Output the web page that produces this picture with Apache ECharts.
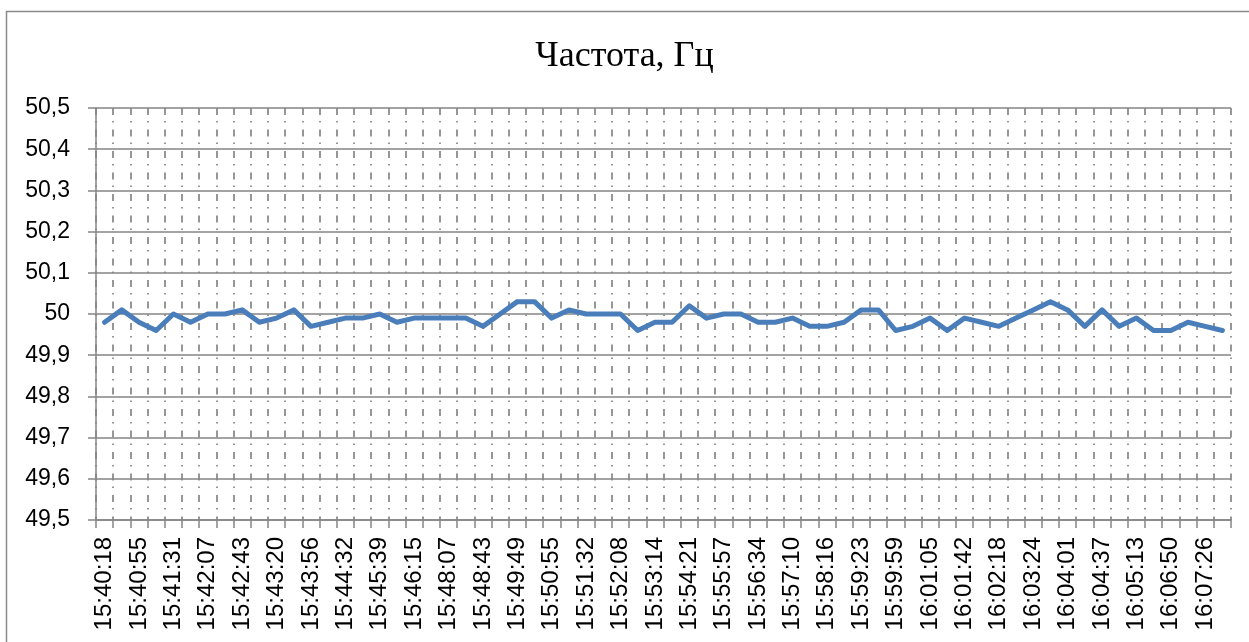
<!DOCTYPE html>
<html>
<head>
<meta charset="utf-8">
<script src="https://cdn.jsdelivr.net/npm/echarts@6/dist/echarts.min.js"></script>
<style>
  html, body { margin: 0; padding: 0; background: #fff; }
  #chart { width: 1249px; height: 642px; }
</style>
</head>
<body>
<div id="chart"></div>
<script>
// Time stamps printed under every second sample
const timeLabels = [
  '15:40:18', '15:40:55', '15:41:31', '15:42:07', '15:42:43', '15:43:20',
  '15:43:56', '15:44:32', '15:45:39', '15:46:15', '15:48:07', '15:48:43',
  '15:49:49', '15:50:55', '15:51:32', '15:52:08', '15:53:14', '15:54:21',
  '15:55:57', '15:56:34', '15:57:10', '15:58:16', '15:59:23', '15:59:59',
  '16:01:05', '16:01:42', '16:02:18', '16:03:24', '16:04:01', '16:04:37',
  '16:05:13', '16:06:50', '16:07:26'
];

// Frequency samples, Hz (one per category)
const frequency = [
  49.98, 50.01, 49.98, 49.96, 50.00, 49.98, 50.00, 50.00, 50.01, 49.98,
  49.99, 50.01, 49.97, 49.98, 49.99, 49.99, 50.00, 49.98, 49.99, 49.99,
  49.99, 49.99, 49.97, 50.00, 50.03, 50.03, 49.99, 50.01, 50.00, 50.00,
  50.00, 49.96, 49.98, 49.98, 50.02, 49.99, 50.00, 50.00, 49.98, 49.98,
  49.99, 49.97, 49.97, 49.98, 50.01, 50.01, 49.96, 49.97, 49.99, 49.96,
  49.99, 49.98, 49.97, 49.99, 50.01, 50.03, 50.01, 49.97, 50.01, 49.97,
  49.99, 49.96, 49.96, 49.98, 49.97, 49.96
];

const yMin = 49.5;
const yMax = 50.5;
const yStep = 0.1;

// Two samples per printed time stamp; the in-between slots carry no label
const categories = [];
timeLabels.forEach(function (t) { categories.push(t); categories.push(''); });

const gridColor = '#858585';

const chart = echarts.init(document.getElementById('chart'), null, { renderer: 'canvas' });

chart.setOption({
  backgroundColor: '#ffffff',
  animation: false,
  title: {
    text: 'Частота, Гц',
    left: 'center',
    top: 34,
    textStyle: {
      fontFamily: '"Liberation Serif", "DejaVu Serif", serif',
      fontSize: 36,
      fontWeight: 'normal',
      color: '#000'
    }
  },
  graphic: [{
    type: 'rect',
    shape: { x: 6.5, y: 11.5, width: 1300, height: 700 },
    style: { fill: 'none', stroke: '#8a8a8a', lineWidth: 1.5 },
    silent: true
  }],
  grid: {
    left: 96,
    right: 18,
    top: 108,
    bottom: 122,
    containLabel: false
  },
  xAxis: {
    type: 'category',
    data: categories,
    boundaryGap: true,
    axisLine: { show: true, lineStyle: { color: gridColor, width: 1.5 } },
    axisTick: {
      show: true,
      interval: 0,
      length: 8,
      lineStyle: { color: gridColor, width: 1.5 }
    },
    splitLine: {
      show: true,
      interval: 0,
      lineStyle: { color: gridColor, width: 1.7, type: [7, 6, 1.5, 7] }
    },
    axisLabel: {
      interval: 1,
      rotate: 90,
      margin: 17,
      fontFamily: '"Liberation Sans", Arial, sans-serif',
      fontSize: 24,
      color: '#000'
    }
  },
  yAxis: {
    type: 'value',
    min: yMin,
    max: yMax,
    interval: yStep,
    axisLine: { show: true, lineStyle: { color: gridColor, width: 1.5 } },
    axisTick: { show: true, length: 8, lineStyle: { color: gridColor, width: 1.5 } },
    splitLine: { show: true, lineStyle: { color: gridColor, width: 1.5 } },
    axisLabel: {
      margin: 26,
      fontFamily: '"Liberation Sans", Arial, sans-serif',
      fontSize: 23,
      color: '#000',
      formatter: function (v) {
        return String(parseFloat(v.toFixed(1))).replace('.', ',');
      }
    }
  },
  series: [{
    type: 'line',
    data: frequency,
    symbol: 'none',
    smooth: false,
    lineStyle: { color: '#4a7ebb', width: 5, join: 'round', cap: 'round' }
  }]
});
</script>
</body>
</html>
